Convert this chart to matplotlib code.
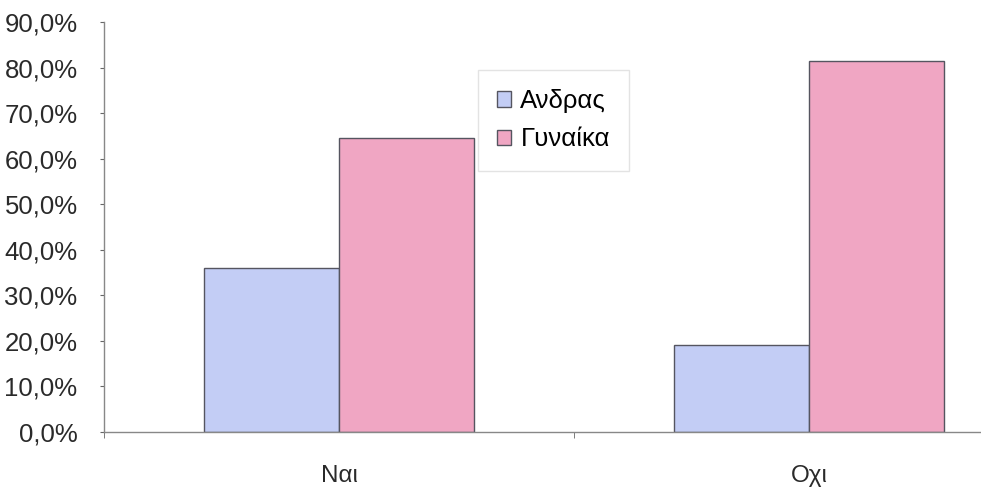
import matplotlib
matplotlib.use("Agg")
import matplotlib.pyplot as plt
from matplotlib.ticker import FuncFormatter

categories = ["Ναι", "Οχι"]
series_names = ["Ανδρας", "Γυναίκα"]
andras = [36.0, 19.0]
gynaika = [64.5, 81.5]
yticks = [0, 10, 20, 30, 40, 50, 60, 70, 80, 90]

plt.rcParams['font.family'] = ['Liberation Sans', 'DejaVu Sans']

W, H = 981, 487
fig = plt.figure(figsize=(W / 100, H / 100), dpi=100)
left, right, top, bottom = 104, 1044, 22, 432
ax = fig.add_axes([left / W, (H - bottom) / H, (right - left) / W, (bottom - top) / H])

x = list(range(len(categories)))
bw = 0.287
ax.bar([i - bw / 2 for i in x], andras, width=bw, color="#c3cdf5", edgecolor="#555560", linewidth=1.0, label=series_names[0])
ax.bar([i + bw / 2 for i in x], gynaika, width=bw, color="#f0a6c3", edgecolor="#555560", linewidth=1.0, label=series_names[1])

ax.set_xlim(-0.5, len(categories) - 0.5)
ax.set_ylim(0, 90)
ax.set_yticks(yticks)
ax.yaxis.set_major_formatter(FuncFormatter(lambda v, p: f"{v:.1f}%".replace(".", ",")))
ax.set_xticks(x)
ax.set_xticklabels(categories)
ax.set_xticks([-0.5, 0.5, 1.5], minor=True)
ax.tick_params(axis="x", which="major", length=0, pad=24, labelsize=17.5, labelcolor="#2a2a2a")
ax.tick_params(axis="x", which="minor", length=4, color="#666666")
ax.tick_params(axis="y", length=3, color="#666666", labelsize=18.5, labelcolor="#2a2a2a", pad=16)

for s in ["top", "right"]:
    ax.spines[s].set_visible(False)
for s in ["left", "bottom"]:
    ax.spines[s].set_color("#888888")
    ax.spines[s].set_linewidth(1.0)

leg = ax.legend(loc="upper left", bbox_to_anchor=((478 - left) / (right - left), 1 - (70 - top) / (bottom - top)),
                borderaxespad=0,
                fontsize=18.5, frameon=True, fancybox=False, edgecolor="#dddddd",
                handlelength=0.55, handleheight=0.55, handletextpad=0.35, labelspacing=0.55,
                borderpad=0.75)
leg.get_frame().set_linewidth(1.0)

fig.savefig("out.png", dpi=100)
